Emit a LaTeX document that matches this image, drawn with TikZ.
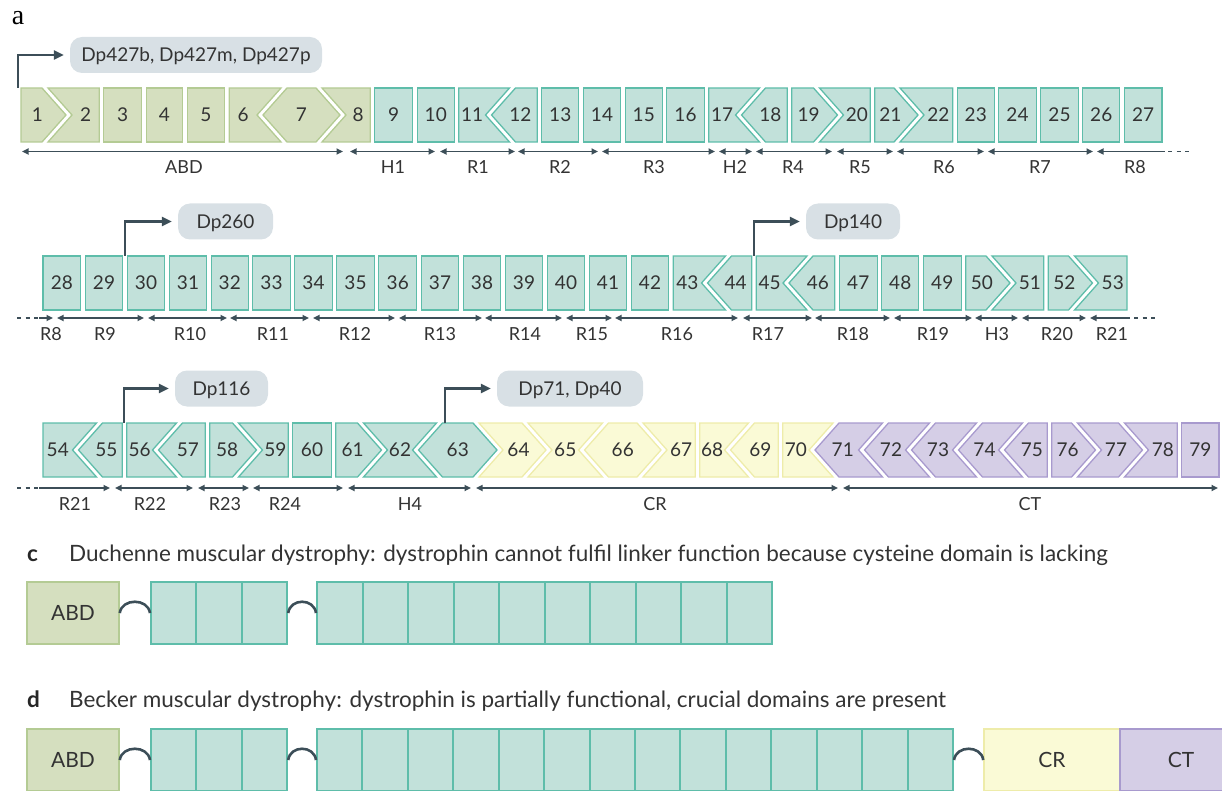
\documentclass[tikz,border=0pt]{standalone}
\usepackage{fontspec}
\setmainfont{Lato}
\newfontfamily\panelserif{Liberation Serif}
\usetikzlibrary{arrows.meta}

% palette
\definecolor{abdfill}{HTML}{D5DFBF}
\definecolor{abdline}{HTML}{B4CB94}
\definecolor{rodfill}{HTML}{C2E1DA}
\definecolor{rodline}{HTML}{5EBDAA}
\definecolor{crfill}{HTML}{FAFAD6}
\definecolor{crline}{HTML}{EEECAA}
\definecolor{ctfill}{HTML}{D5CEE6}
\definecolor{ctline}{HTML}{A89ACE}
\definecolor{bubble}{HTML}{D8E0E5}
\definecolor{ink}{HTML}{3C4E58}
\definecolor{txt}{HTML}{333333}

\tikzset{
  num/.style={inner sep=0pt, font=\fontsize{19}{19}\selectfont, text=txt,
    text height=13.6pt, text depth=0pt},
  dlabel/.style={inner sep=0pt, font=\fontsize{18}{18}\selectfont, text=txt,
    text height=12.9pt, text depth=0pt},
  domline/.style={draw=ink, line width=1.6pt, >={Triangle[length=6.5pt,width=6pt]}},
  dashline/.style={draw=ink, line width=1.6pt, dash pattern=on 4pt off 4.5pt},
  bub/.style={fill=bubble, rounded corners=12pt, minimum height=36pt, inner sep=0pt,
    font=\fontsize{19}{19}\selectfont, text=txt, text height=13.6pt, text depth=0pt},
  tss/.style={draw=ink, line width=2.6pt, -{Triangle[length=10pt,width=9pt]},
    shorten >=6pt},
  blk/.style={minimum height=62pt, inner sep=0pt, font=\fontsize{21}{21}\selectfont,
    text=txt, text height=15pt, text depth=0pt},
  abdbox/.style={blk, fill=abdfill, draw=abdline, line width=1.5pt},
  rodbox/.style={blk, fill=rodfill, draw=rodline, line width=2pt},
  crbox/.style={blk, fill=crfill, draw=crline, line width=1.5pt},
  ctbox/.style={blk, fill=ctfill, draw=ctline, line width=1.5pt},
  link/.style={draw=ink, line width=2.6pt},
  captext/.style={inner sep=0pt, font=\fontsize{22.5}{22.5}\selectfont, text=txt},
  capletter/.style={inner sep=0pt, font=\bfseries\fontsize{22.5}{22.5}\selectfont, text=black!85},
}

% chevron depth of an exon end
\newcommand\exdepth{24}
% one exon: #1 number, #2 left junction x, #3 left type (-1,0,1),
% #4 right junction x, #5 right type, #6 top y
\newcommand\exon[6]{%
  \pgfmathsetmacro\gL{ifthenelse(#3==0,2.25,3)}%
  \pgfmathsetmacro\gR{ifthenelse(#5==0,2.25,3)}%
  \pgfmathsetmacro\aL{#2+\gL}%
  \pgfmathsetmacro\mL{#2+(#3)*\exdepth+\gL}%
  \pgfmathsetmacro\aR{#4-\gR}%
  \pgfmathsetmacro\mR{#4+(#5)*\exdepth-\gR}%
  \pgfmathsetmacro\bL{ifthenelse(#3==0,\aL,ifthenelse(#3>0,\mL,(\aL+\mL)/2))}%
  \pgfmathsetmacro\bR{ifthenelse(#5==0,\aR,ifthenelse(#5<0,\mR,(\aR+\mR)/2))}%
  \pgfmathsetmacro\lx{(\bL+\bR)/2}%
  \ifnum#1<9\relax \def\exfill{abdfill}\def\exline{abdline}%
  \else\ifnum#1<64\relax \def\exfill{rodfill}\def\exline{rodline}%
  \else\ifnum#1<71\relax \def\exfill{crfill}\def\exline{crline}%
  \else \def\exfill{ctfill}\def\exline{ctline}\fi\fi\fi
  \draw[fill=\exfill, draw=\exline, line width=1.3pt]
    (\aL,#6) -- (\aR,#6) -- (\mR,#6+27) -- (\aR,#6+54) -- (\aL,#6+54) -- (\mL,#6+27) -- cycle;
  \node[num] (e#1) at (\lx,#6+27) {#1};
}

% domain range arrow: #1 tips, #2 name, #3 x1, #4 x2, #5 y, #6 label x, #7 label
\newcommand\dom[7]{%
  \coordinate (#2-l) at (#3,#5);
  \coordinate (#2-r) at (#4,#5);
  \draw[domline,#1] (#2-l) -- (#2-r);
  \node[dlabel] (#2) at (#6,#5+16) {#7};
}

\begin{document}
\begin{tikzpicture}[x=1pt, y=-1pt, line join=miter]
\useasboundingbox (0,0) rectangle (1222,791);

% ---------------- panel a ----------------
\node[font=\panelserif\fontsize{28}{28}\selectfont, anchor=base, inner sep=0pt] (la) at (18,25) {a};

% row 1: exons 1-27
\foreach \xr/\tr [count=\k, remember=\xr as \xl (initially 18.75), remember=\tr as \tl (initially 0)] in
  {45/1, 101.5/0, 144/0, 185/0, 227/0, 284/-1, 319/1, 372.5/0, 415/0, 456.5/0,
   512.5/-1, 539.5/0, 581/0, 623/0, 664.5/0, 706.5/0, 762.5/-1, 789.5/0, 816.5/1,
   872.5/0, 897/1, 955/0, 996.5/0, 1038.5/0, 1080.5/0, 1122/0, 1164.25/0}
{
  \pgfmathtruncatemacro\n{\k}
  \exon{\n}{\xl}{\tl}{\xr}{\tr}{88}
}

% row 2: exons 28-53
\foreach \xr/\tr [count=\k, remember=\xr as \xl (initially 40.75), remember=\tr as \tl (initially 0)] in
  {83/0, 125/0, 167/0, 209/0, 250.5/0, 292.5/0, 334.5/0, 376.5/0, 419/0, 461/0,
   503/0, 545/0, 587/0, 629/0, 671/0, 728.5/-1, 754/0, 810/-1, 837/0, 879.5/0,
   921/0, 963.5/0, 989/1, 1046/0, 1071.5/1, 1129.25/0}
{
  \pgfmathtruncatemacro\n{\k+27}
  \exon{\n}{\xl}{\tl}{\xr}{\tr}{256}
}

% row 3: exons 54-79
\foreach \xr/\tr [count=\k, remember=\xr as \xl (initially 40.75), remember=\tr as \tl (initially 0)] in
  {99.5/-1, 124.5/0, 179.5/-1, 207.5/0, 235.5/1, 290.5/0, 333.5/0, 360.5/1,
   439.5/-1, 476/1, 525/1, 605.5/-1, 640/1, 697.5/0, 751.5/-1, 780.5/0, 836/-1,
   885.5/-1, 932.5/-1, 979.5/-1, 1025.5/-1, 1049.5/0, 1074.5/1, 1121.5/1,
   1179.5/0, 1221.25/0}
{
  \pgfmathtruncatemacro\n{\k+53}
  \exon{\n}{\xl}{\tl}{\xr}{\tr}{423}
}

% promoters and their isoforms
\node[bub, minimum width=252pt] (b427) at (196,55) {Dp427b, Dp427m, Dp427p};
\node[bub, minimum width=95pt]  (b260) at (225.5,221.5) {Dp260};
\node[bub, minimum width=94pt]  (b140) at (853,221.5) {Dp140};
\node[bub, minimum width=93pt]  (b116) at (221.5,388.5) {Dp116};
\node[bub, minimum width=146pt] (b71)  at (570,388.5) {Dp71, Dp40};

\coordinate (p427) at (18,88);
\coordinate (p260) at (125,256);
\coordinate (p140) at (754,256);
\coordinate (p116) at (124,423);
\coordinate (p71)  at (445,423);
\draw[tss] (p427) |- (b427.west);
\draw[tss] (p260) |- (b260.west);
\draw[tss] (p140) |- (b140.west);
\draw[tss] (p116) |- (b116.west);
\draw[tss] (p71)  |- (b71.west);

% domains, row 1
\dom{<->}{ABD}{22}{343}{151.5}{184}{ABD}
\dom{<->}{H1}{350}{435}{151.5}{393}{H1}
\dom{<->}{R1}{440}{515}{151.5}{478}{R1}
\dom{<->}{R2}{518}{598}{151.5}{560}{R2}
\dom{<->}{R3}{602}{715}{151.5}{654}{R3}
\dom{<->}{H2}{719}{752}{151.5}{735}{H2}
\dom{<->}{R4}{756}{832}{151.5}{793}{R4}
\dom{<->}{R5}{837}{893}{151.5}{860}{R5}
\dom{<->}{R6}{897}{984}{151.5}{944}{R6}
\dom{<->}{R7}{988}{1093}{151.5}{1040}{R7}
\dom{<-}{R8a}{1097}{1165}{151.5}{1135}{R8}
\coordinate (R8a-d1) at (1168,151.5);
\coordinate (R8a-d2) at (1191,151.5);
\draw[dashline] (R8a-d1) -- (R8a-d2);

% domains, row 2
\coordinate (R8b-d1) at (17,318);
\coordinate (R8b-d2) at (38,318);
\draw[dashline] (R8b-d1) -- (R8b-d2);
\dom{->}{R8b}{39}{53}{318}{51}{R8}
\dom{<->}{R9}{57}{144}{318}{105}{R9}
\dom{<->}{R10}{148}{227}{318}{190}{R10}
\dom{<->}{R11}{230}{309}{318}{273}{R11}
\dom{<->}{R12}{313}{395}{318}{355}{R12}
\dom{<->}{R13}{399}{482}{318}{440}{R13}
\dom{<->}{R14}{485}{562}{318}{525}{R14}
\dom{<->}{R15}{566}{612}{318}{592}{R15}
\dom{<->}{R16}{615}{738}{318}{677}{R16}
\dom{<->}{R17}{743}{812}{318}{768}{R17}
\dom{<->}{R18}{815}{890}{318}{853}{R18}
\dom{<->}{R19}{894}{972}{318}{933}{R19}
\dom{<->}{H3}{975}{1018}{318}{997}{H3}
\dom{<->}{R20}{1022}{1086}{318}{1057}{R20}
\dom{<-}{R21a}{1090}{1130}{318}{1112}{R21}
\coordinate (R21a-d1) at (1134,318);
\coordinate (R21a-d2) at (1157,318);
\draw[dashline] (R21a-d1) -- (R21a-d2);

% domains, row 3
\coordinate (R21b-d1) at (17,488);
\coordinate (R21b-d2) at (38,488);
\draw[dashline] (R21b-d1) -- (R21b-d2);
\dom{->}{R21b}{39}{110}{488}{75}{R21}
\dom{<->}{R22}{115}{193}{488}{150}{R22}
\dom{<->}{R23}{198}{249}{488}{225}{R23}
\dom{<->}{R24}{253}{343}{488}{285}{R24}
\dom{<->}{H4}{348}{471}{488}{410}{H4}
\dom{<->}{CR}{476}{838}{488}{655}{CR}
\dom{<->}{CT}{843}{1218}{488}{1030}{CT}

% ---------------- panel c ----------------
\node[capletter, anchor=base west] (lc) at (27,561) {c};
\node[captext, anchor=base west] (capc) at (69,561)
  {Duchenne muscular dystrophy: dystrophin cannot fulfil linker function because cysteine domain is lacking};
\node[abdbox, minimum width=92pt] (abdc) at (73,613) {ABD};
\foreach \i in {1,2,3}{
  \pgfmathsetmacro\cx{151+45.4*(\i-0.5)}
  \node[rodbox, minimum width=45.4pt] (c\i) at (\cx,613) {};
}
\foreach \i in {4,...,13}{
  \pgfmathsetmacro\cx{317+45.5*(\i-3.5)}
  \node[rodbox, minimum width=45.5pt] (c\i) at (\cx,613) {};
}
\draw[link] (abdc.east) .. controls +(2,-15) and +(-2,-15) .. (c1.west);
\draw[link] (c3.east) .. controls +(2,-15) and +(-2,-15) .. (c4.west);

% ---------------- panel d ----------------
\node[capletter, anchor=base west] (ld) at (27,707) {d};
\node[captext, anchor=base west] (capd) at (69,707)
  {Becker muscular dystrophy: dystrophin is partially functional, crucial domains are present};
\node[abdbox, minimum width=92pt] (abdd) at (73,760) {ABD};
\foreach \i in {1,2,3}{
  \pgfmathsetmacro\cx{151+45.4*(\i-0.5)}
  \node[rodbox, minimum width=45.4pt] (d\i) at (\cx,760) {};
}
\foreach \i in {4,...,17}{
  \pgfmathsetmacro\cx{317+45.43*(\i-3.5)}
  \node[rodbox, minimum width=45.43pt] (d\i) at (\cx,760) {};
}
\node[crbox, minimum width=136pt] (crd) at (1052,760) {CR};
\node[ctbox, minimum width=122pt] (ctd) at (1181,760) {CT};
\draw[link] (abdd.east) .. controls +(2,-15) and +(-2,-15) .. (d1.west);
\draw[link] (d3.east) .. controls +(2,-15) and +(-2,-15) .. (d4.west);
\draw[link] (d17.east) .. controls +(2,-15) and +(-2,-15) .. (crd.west);
\end{tikzpicture}
\end{document}
